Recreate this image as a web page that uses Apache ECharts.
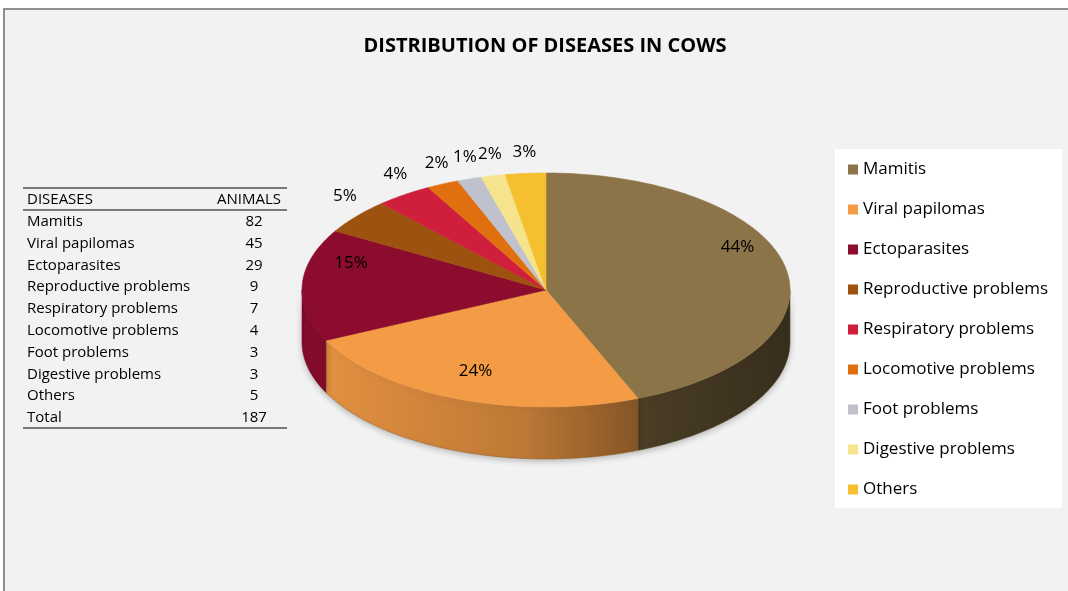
<!DOCTYPE html>
<html>
<head>
<meta charset="utf-8">
<script src="https://cdn.jsdelivr.net/npm/echarts@6/dist/echarts.min.js"></script>
<style>
	html, body { margin: 0; padding: 0; background: #fff; }
	#main { width: 1068px; height: 591px; }
</style>
</head>
<body>
<div id="main"></div>
<script>
	// data
	var titleText = 'DISTRIBUTION OF DISEASES IN COWS';
	var diseases = ['Mamitis', 'Viral papilomas', 'Ectoparasites', 'Reproductive problems',
		'Respiratory problems', 'Locomotive problems', 'Foot problems', 'Digestive problems', 'Others'];
	var animals = [82, 45, 29, 9, 7, 4, 3, 3, 5];
	var pctLabels = ['44%', '24%', '15%', '5%', '4%', '2%', '1%', '2%', '3%'];
	var tableHeader = ['DISEASES', 'ANIMALS'];
	var totalLabel = 'Total';
	var totalValue = 187;

	var colors = ['#8b7448', '#f39b45', '#8c0c2e', '#9e520f', '#cf1f3c', '#e0700f', '#bfc2cc', '#f6e38e', '#f5bf2f'];

	// pie geometry (flattened 3d look)
	var cx = 546, cy = 290, rx = 244, ry = 117, depth = 52;
	var FONT = '"Open Sans", "DejaVu Sans", sans-serif';

	var sum = animals.reduce(function (a, b) { return a + b; }, 0);
	var starts = [];
	var acc = 0;
	for (var i = 0; i < animals.length; i++) {
		starts.push(acc / sum * Math.PI * 2);
		acc += animals[i];
	}

	function pt(t, dy) {
		return [cx + rx * Math.sin(t), cy - ry * Math.cos(t) + (dy || 0)];
	}
	function shade(hex, k) {
		var c = parseInt(hex.slice(1), 16);
		var r = Math.round(((c >> 16) & 255) * k), g = Math.round(((c >> 8) & 255) * k), b = Math.round((c & 255) * k);
		return 'rgb(' + r + ',' + g + ',' + b + ')';
	}

	function renderSlice(params, api) {
		var idx = params.dataIndex;
		var a0 = starts[idx];
		var a1 = a0 + api.value(0) / sum * Math.PI * 2;
		var col = colors[idx];
		var children = [];
		var n = Math.max(2, Math.ceil((a1 - a0) / 0.02));
		var top = [[cx, cy]];
		for (var k = 0; k <= n; k++) top.push(pt(a0 + (a1 - a0) * k / n));
		children.push({
			type: 'polygon', z2: 10,
			shape: { points: top },
			style: { fill: col, stroke: col, lineWidth: 0.6 }
		});
		var s0 = Math.max(a0, Math.PI / 2), s1 = Math.min(a1, Math.PI * 1.5);
		if (s1 > s0) {
			var m = Math.max(2, Math.ceil((s1 - s0) / 0.02));
			var side = [];
			for (k = 0; k <= m; k++) side.push(pt(s0 + (s1 - s0) * k / m));
			for (k = m; k >= 0; k--) side.push(pt(s0 + (s1 - s0) * k / m, depth));
			children.push({
				type: 'polygon', z2: 5,
				shape: { points: side },
				style: {
					fill: new echarts.graphic.LinearGradient(cx - rx, 0, cx + rx, 0, [
						{ offset: 0, color: shade(col, 0.95) },
						{ offset: 0.45, color: shade(col, 0.78) },
						{ offset: 0.72, color: shade(col, 0.52) },
						{ offset: 1, color: shade(col, 0.4) }
					], true),
					stroke: shade(col, 0.6), lineWidth: 0.5,
					shadowBlur: 6, shadowColor: 'rgba(0,0,0,0.25)', shadowOffsetY: 2
				}
			});
		}
		var mid = (a0 + a1) / 2;
		var share = api.value(0) / sum;
		var lx, ly;
		if (share > 0.1) {
			lx = cx + rx * 0.8 * Math.sin(mid);
			ly = cy - ry * 0.95 * Math.cos(mid) - 22;
		} else {
			lx = cx + rx * 1.06 * Math.sin(mid);
			ly = cy - ry * 1.03 * Math.cos(mid) - 18;
		}
		children.push({
			type: 'text', z2: 20,
			style: {
				text: pctLabels[idx], x: lx, y: ly, align: 'center', verticalAlign: 'middle',
				fill: '#000', fontSize: 17, fontFamily: FONT
			}
		});
		return { type: 'group', children: children };
	}

	// frame, legend box, title and the table on the left
	var graphics = [
		{ type: 'rect', z: -10, shape: { x: 4, y: 9, width: 1100, height: 700 },
			style: { fill: '#f2f2f2', stroke: '#8f8f8f', lineWidth: 2 } },
		{ type: 'rect', z: -5, shape: { x: 835, y: 149, width: 227, height: 359 },
			style: { fill: '#ffffff' } },
		{ type: 'text', style: { text: titleText, x: 545, y: 46, align: 'center', verticalAlign: 'middle',
			fontSize: 20, fontWeight: 'bold', fontFamily: FONT, fill: '#000' } }
	];
	var tx0 = 23, tx1 = 287, rowH = 21.8, headY = 200;
	[188, 210, 428].forEach(function (y) {
		graphics.push({ type: 'line', shape: { x1: tx0, y1: y, x2: tx1, y2: y }, style: { stroke: '#000', lineWidth: 1.2 } });
	});
	function cellText(t, x, y, align) {
		return { type: 'text', style: { text: t, x: x, y: y, align: align, verticalAlign: 'middle',
			fontSize: 15, fontFamily: FONT, fill: '#000' } };
	}
	graphics.push(cellText(tableHeader[0], 27, headY, 'left'));
	graphics.push(cellText(tableHeader[1], 281, headY, 'right'));
	diseases.concat([totalLabel]).forEach(function (name, k) {
		var y = headY + rowH * (k + 1);
		var v = k < animals.length ? animals[k] : totalValue;
		graphics.push(cellText(name, 27, y, 'left'));
		graphics.push(cellText(String(v), 254, y, 'center'));
	});

	var myChart = echarts.init(document.getElementById('main'));
	var option = {
		animation: false,
		backgroundColor: '#ffffff',
		graphic: graphics,
		legend: {
			orient: 'vertical',
			left: 843,
			top: 156,
			itemWidth: 10,
			itemHeight: 10,
			itemGap: 23,
			icon: 'rect',
			data: diseases,
			textStyle: { fontSize: 17, fontFamily: FONT, color: '#000' }
		},
		series: [
			{
				name: 'cows',
				type: 'custom',
				coordinateSystem: 'none',
				renderItem: renderSlice,
				data: animals
			},
			{
				// only feeds the legend with names and colours
				name: 'legendPie',
				type: 'pie',
				center: [-300, -300],
				radius: 5,
				silent: true,
				label: { show: false },
				data: diseases.map(function (d, k) {
					return { name: d, value: animals[k], itemStyle: { color: colors[k] } };
				})
			}
		]
	};
	myChart.setOption(option);
</script>
</body>
</html>
